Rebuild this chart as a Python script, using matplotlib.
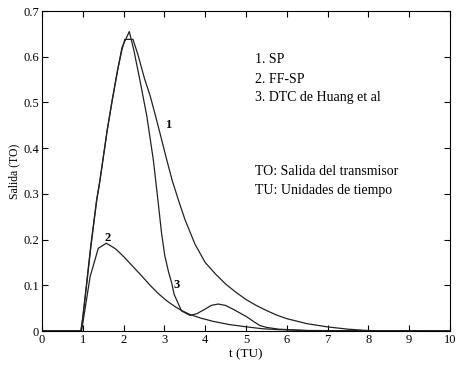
import matplotlib
matplotlib.use("Agg")
import matplotlib.pyplot as plt

plt.rcParams['font.family'] = 'Liberation Serif'

# curve 1: SP
t_sp = [0, 0.95, 1.0, 1.1, 1.2, 1.34, 1.42, 1.6, 1.72, 1.85, 1.96, 2.03, 2.23, 2.35, 2.52, 2.65, 2.77,
        2.9, 3.06, 3.19, 3.35, 3.5, 3.75, 4.0, 4.25, 4.5, 4.75, 5.0, 5.25, 5.5, 5.75, 6.0, 6.5,
        7.0, 7.5, 8.0, 9.0, 10]
y_sp = [0, 0, 0.03, 0.11, 0.19, 0.287, 0.33, 0.44, 0.505, 0.57, 0.615, 0.638, 0.638, 0.605, 0.55, 0.515, 0.475,
        0.43, 0.374, 0.33, 0.285, 0.245, 0.19, 0.15, 0.125, 0.103, 0.085, 0.069, 0.056, 0.045, 0.035, 0.027, 0.016,
        0.009, 0.004, 0.001, 0, 0]

# curve 2: FF-SP
t_ff = [0, 0.97, 1.18, 1.38, 1.58, 1.8, 2.0, 2.24, 2.45, 2.65, 2.85, 3.06, 3.25, 3.42, 3.63,
        3.9, 4.2, 4.6, 5.02, 5.4, 5.8, 6.5, 10]
y_ff = [0, 0, 0.119, 0.181, 0.192, 0.18, 0.163, 0.14, 0.12, 0.10, 0.082, 0.066, 0.054, 0.045, 0.036,
        0.028, 0.021, 0.014, 0.009, 0.005, 0.003, 0.001, 0]

# curve 3: DTC de Huang et al
t_dtc = [0, 0.96, 1.0, 1.1, 1.2, 1.34, 1.42, 1.6, 1.72, 1.85, 1.96, 2.14, 2.25, 2.40, 2.57, 2.73,
         2.85, 2.93, 3.01, 3.1, 3.18, 3.24, 3.42, 3.63, 3.8, 4.0, 4.15, 4.32, 4.5, 4.7, 4.9, 5.02,
         5.2, 5.34, 5.5, 5.8, 6.5, 10]
y_dtc = [0, 0, 0.028, 0.105, 0.185, 0.285, 0.328, 0.44, 0.503, 0.568, 0.62, 0.655, 0.615, 0.549, 0.47, 0.374,
         0.28, 0.215, 0.165, 0.13, 0.105, 0.08, 0.044, 0.034, 0.038, 0.048, 0.056, 0.059, 0.056, 0.047, 0.037, 0.031,
         0.02, 0.012, 0.008, 0.004, 0.001, 0]

fig = plt.figure(figsize=(4.6, 3.72), dpi=100)
ax = fig.add_axes([0.0913, 0.1102, 0.8867, 0.8602])

ax.plot(t_sp, y_sp, color='#222222', lw=0.9)
ax.plot(t_ff, y_ff, color='#222222', lw=0.9)
ax.plot(t_dtc, y_dtc, color='#222222', lw=0.9)

ax.set_xlim(0, 10)
ax.set_ylim(0, 0.7)
ax.set_xticks(range(0, 11))
ax.set_yticks([0, 0.1, 0.2, 0.3, 0.4, 0.5, 0.6, 0.7])
ax.set_yticklabels(['0', '0.1', '0.2', '0.3', '0.4', '0.5', '0.6', '0.7'])
ax.tick_params(direction='in', top=True, right=True, length=4, width=0.8, labelsize=9, pad=2)
for s in ax.spines.values():
    s.set_linewidth(0.8)

ax.set_xlabel('t (TU)', fontsize=9.5, labelpad=2)
ax.set_ylabel('Salida (TO)', fontsize=8.5, labelpad=2)

# curve labels
ax.text(3.09, 0.45, '1', fontsize=9, fontweight='bold', ha='center', va='center')
ax.text(1.6, 0.203, '2', fontsize=9, fontweight='bold', ha='center', va='center')
ax.text(3.3, 0.10, '3', fontsize=9, fontweight='bold', ha='center', va='center')

# legend text
ax.text(5.22, 0.593, '1. SP', fontsize=10, va='center')
ax.text(5.22, 0.551, '2. FF-SP', fontsize=10, va='center')
ax.text(5.22, 0.511, '3. DTC de Huang et al', fontsize=10, va='center')
ax.text(5.22, 0.348, 'TO: Salida del transmisor', fontsize=10, va='center')
ax.text(5.22, 0.308, 'TU: Unidades de tiempo', fontsize=10, va='center')

fig.savefig('out.png', dpi=100)
